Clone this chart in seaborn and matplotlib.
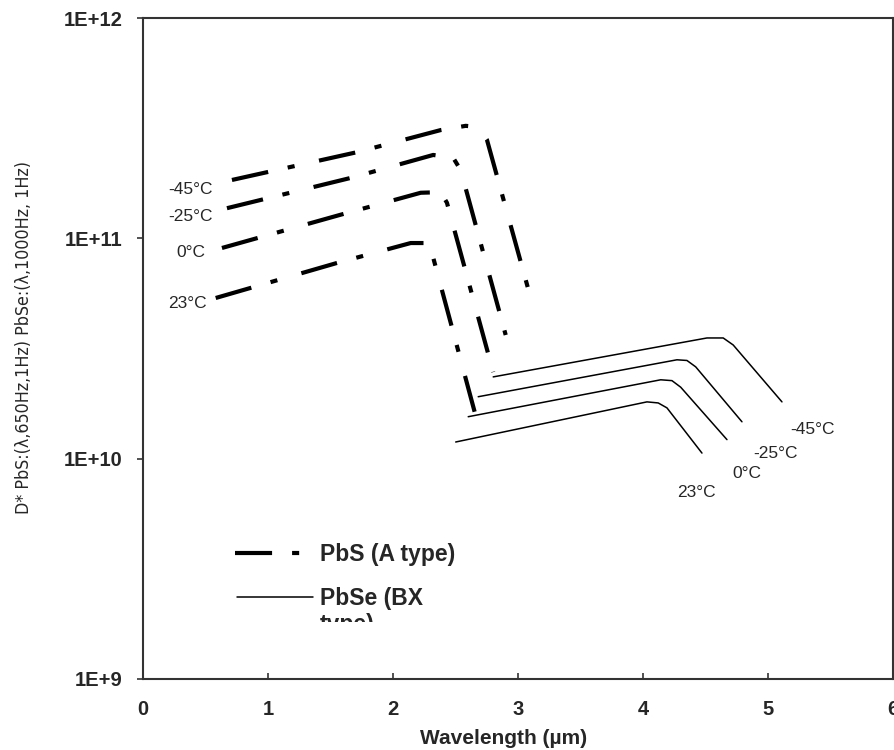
import matplotlib
matplotlib.use("Agg")
import matplotlib.pyplot as plt
from matplotlib.lines import Line2D
from matplotlib.patches import Rectangle
from matplotlib.ticker import FixedLocator, FixedFormatter, NullLocator
import pandas as pd
import seaborn as sns

# ---- PbS (A type) detectivity, D* versus wavelength (um) ----
temps = ["-45°C", "-25°C", "0°C", "23°C"]

pbs_m45_wl = [0.71, 1.71, 2.38, 2.58, 2.68, 2.75, 3.12]
pbs_m45_d = [1.84e11, 2.46e11, 3.10e11, 3.24e11, 3.20e11, 2.80e11, 4.88e10]

pbs_m25_wl = [0.67, 1.66, 2.32, 2.48, 2.54, 2.90]
pbs_m25_d = [1.37e11, 1.88e11, 2.39e11, 2.32e11, 2.04e11, 3.64e10]

pbs_0_wl = [0.63, 1.58, 2.22, 2.38, 2.43, 2.80]
pbs_0_d = [9.04e10, 1.28e11, 1.61e11, 1.62e11, 1.45e11, 2.47e10]

pbs_23_wl = [0.58, 1.55, 2.14, 2.26, 2.31, 2.68]
pbs_23_d = [5.36e10, 7.73e10, 9.52e10, 9.52e10, 8.58e10, 1.42e10]

# ---- PbSe (BX type) detectivity ----
pbse_m45_wl = [2.80, 4.51, 4.64, 4.72, 5.11]
pbse_m45_d = [2.35e10, 3.53e10, 3.53e10, 3.28e10, 1.81e10]

pbse_m25_wl = [2.68, 4.27, 4.35, 4.42, 4.79]
pbse_m25_d = [1.91e10, 2.81e10, 2.79e10, 2.61e10, 1.47e10]

pbse_0_wl = [2.60, 4.14, 4.23, 4.30, 4.67]
pbse_0_d = [1.55e10, 2.28e10, 2.26e10, 2.11e10, 1.22e10]

pbse_23_wl = [2.50, 4.03, 4.12, 4.19, 4.47]
pbse_23_d = [1.19e10, 1.81e10, 1.79e10, 1.70e10, 1.06e10]

xtick_values = [0, 1, 2, 3, 4, 5, 6]
ytick_values = [1e9, 1e10, 1e11, 1e12]
ytick_labels = ["1E+9", "1E+10", "1E+11", "1E+12"]

legend_labels = ["PbS (A type)", "PbSe (BX\ntype)"]


def long_form(curves):
    rows = []
    for temp, (wl, d) in zip(temps, curves):
        for i, (x, y) in enumerate(zip(wl, d)):
            rows.append({"temp": temp, "order": i, "wl": x, "d": y})
    return pd.DataFrame(rows)


pbs_df = long_form([(pbs_m45_wl, pbs_m45_d), (pbs_m25_wl, pbs_m25_d),
                    (pbs_0_wl, pbs_0_d), (pbs_23_wl, pbs_23_d)])
pbse_df = long_form([(pbse_m45_wl, pbse_m45_d), (pbse_m25_wl, pbse_m25_d),
                     (pbse_0_wl, pbse_0_d), (pbse_23_wl, pbse_23_d)])

sns.set_theme(style="white")
plt.rcParams["font.family"] = ["Liberation Sans", "DejaVu Sans"]

fig = plt.figure(figsize=(8.95, 7.5), dpi=100)
ax = fig.add_axes([0.160, 0.0947, 0.838, 0.8813])

pbs_style = dict(color="black", lw=3.0, linestyle=(0, (8.9, 4.8, 1.7, 6.0)),
                 dash_capstyle="butt")
pbse_style = dict(color="black", lw=1.1, linestyle="-")

sns.lineplot(data=pbs_df, x="wl", y="d", units="temp", estimator=None,
             sort=False, ax=ax, **pbs_style)
sns.lineplot(data=pbse_df, x="wl", y="d", units="temp", estimator=None,
             sort=False, ax=ax, **pbse_style)

ax.set_yscale("log")
ax.set_xlim(0, 6)
ax.set_ylim(1e9, 1e12)
ax.xaxis.set_major_locator(FixedLocator(xtick_values))
ax.yaxis.set_major_locator(FixedLocator(ytick_values))
ax.yaxis.set_major_formatter(FixedFormatter(ytick_labels))
ax.yaxis.set_minor_locator(NullLocator())
ax.xaxis.set_minor_locator(NullLocator())

ax.tick_params(axis="x", direction="in", length=4, width=1.2, color="#333333",
               pad=15, labelsize=14.5, bottom=True, top=False)
ax.tick_params(axis="y", direction="out", length=4, width=1.2, color="#333333",
               pad=11, labelsize=14.5, left=True, right=False)
for lbl in ax.get_xticklabels() + ax.get_yticklabels():
    lbl.set_fontweight("bold")

for side in ["left", "right", "top", "bottom"]:
    ax.spines[side].set_visible(True)
    ax.spines[side].set_color("#333333")
    ax.spines[side].set_linewidth(1.5)

ax.set_xlabel("Wavelength (µm)", fontsize=15, fontweight="bold")
ax.xaxis.label.set_va("top")
ax.xaxis.set_label_coords(0.481, -0.075)

ax.set_ylabel("D* PbS:(λ,650Hz,1Hz) PbSe:(λ,1000Hz, 1Hz)", fontsize=12.8,
              family=["DejaVu Sans"], fontstretch="condensed")
ax.yaxis.label.set_va("center")
ax.yaxis.set_label_coords(-0.159, 0.517)

# temperature labels
pbs_label_pos = [(0.56, 1.66e11), (0.56, 1.25e11), (0.50, 8.6e10), (0.51, 5.04e10)]
pbse_label_pos = [(5.18, 1.35e10), (4.88, 1.06e10), (4.71, 8.6e9), (4.27, 7.05e9)]
for t, (x, y) in zip(temps, pbs_label_pos):
    ax.text(x, y, t, ha="right", va="center", fontsize=12.5)
for t, (x, y) in zip(temps, pbse_label_pos):
    ax.text(x, y, t, ha="left", va="center", fontsize=12.5)

# legend keys and labels
ax.add_line(Line2D([0.1227, 0.22], [0.1906, 0.1906], transform=ax.transAxes,
                   **pbs_style))
ax.add_line(Line2D([0.1253, 0.2267], [0.124, 0.124], transform=ax.transAxes,
                   **pbse_style))
ax.text(0.236, 0.1876, legend_labels[0], transform=ax.transAxes,
        ha="left", va="center", fontsize=16.5, fontweight="bold")
pbse_txt = ax.text(0.236, 0.1392, legend_labels[1], transform=ax.transAxes,
                   ha="left", va="top", fontsize=16.5, fontweight="bold",
                   linespacing=1.15, clip_on=True)
pbse_txt.set_clip_path(Rectangle((0, 0.1707), 1, 1, transform=fig.transFigure))

fig.savefig("out.png", dpi=100, facecolor="white")
